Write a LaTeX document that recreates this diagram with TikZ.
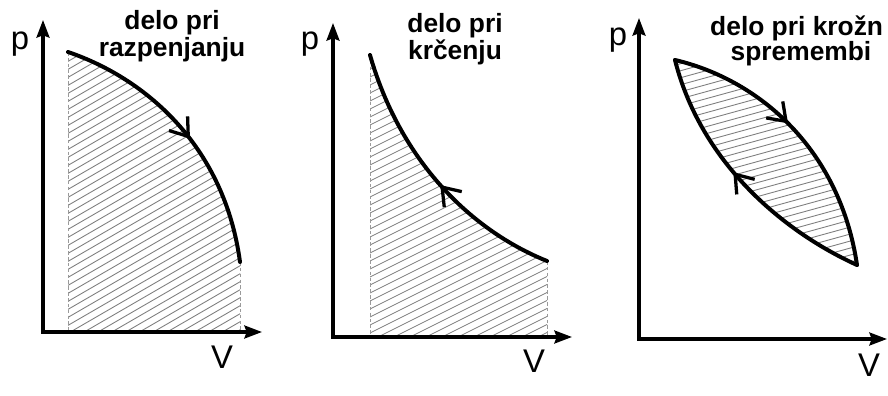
\documentclass[tikz,border=0pt]{standalone}
\usepackage{fontspec}
\setmainfont{Liberation Sans}
\usetikzlibrary{arrows.meta,decorations.markings}
\definecolor{HatchGrey}{HTML}{7E7E7E}
\definecolor{EdgeGrey}{HTML}{9A9A9A}

\tikzset{
  axis/.style={line width=2.8pt,<->},
  pathcurve/.style={line width=3.4pt,line cap=round},
  hatchline/.style={HatchGrey,line width=0.75pt},
  edgeline/.style={EdgeGrey,line width=0.6pt,dashed,dash pattern=on 3pt off 2pt},
  midarrow/.style={postaction={decorate},decoration={markings,
    mark=at position #1 with {\arrow[line width=2.8pt]{Straight Barb[length=14pt,width=20pt]}}}},
  axlabel/.style={font=\fontsize{28}{28}\selectfont,inner sep=0pt},
  title/.style={font=\fontsize{22.5}{23}\selectfont\bfseries,inner sep=0pt,align=center}
}

\begin{document}
\begin{tikzpicture}[x=0.03cm,y=-0.03cm,>={Stealth[length=15pt,width=11pt,inset=2pt]}]
  \useasboundingbox (0,0) rectangle (888,396);

  % razpenjanje
  \coordinate (O1) at (43,332);
  \coordinate (Y1) at (43,20);
  \coordinate (X1) at (262,332);
  \coordinate (A1) at (68,52);
  \coordinate (B1) at (240,262);
  \begin{scope}
    \clip (A1 |- O1) -- (A1) .. controls (150,80) and (225,150) .. (B1) -- (B1 |- O1) -- cycle;
    \foreach \k in {0,...,50} \draw[hatchline] (60,{50+\k*8}) -- ++(190,-110);
  \end{scope}
  \draw[edgeline] (A1) -- (A1 |- O1);
  \draw[edgeline] (B1) -- (B1 |- O1);
  \draw[pathcurve,midarrow=0.53] (A1) .. controls (150,80) and (225,150) .. (B1);
  \draw[axis] (Y1) -- (O1) -- (X1);
  \node[axlabel] (p1) at (20,44) {p};
  \node[axlabel] (v1) at (222,357) {V};
  \node[title] (t1) at (172,36) {delo pri\\razpenjanju};

  % krcenje
  \coordinate (O2) at (333,337);
  \coordinate (Y2) at (333,23);
  \coordinate (X2) at (572,337);
  \coordinate (A2) at (370,55);
  \coordinate (B2) at (547,261);
  \begin{scope}
    \clip (A2 |- O2) -- (A2) .. controls (400,160) and (470,230) .. (B2) -- (B2 |- O2) -- cycle;
    \foreach \k in {0,...,50} \draw[hatchline] (360,{50+\k*8}) -- ++(200,-100);
  \end{scope}
  \draw[edgeline] (A2) -- (A2 |- O2);
  \draw[edgeline] (B2) -- (B2 |- O2);
  \draw[pathcurve,midarrow=0.47] (B2) .. controls (470,230) and (400,160) .. (A2);
  \draw[axis] (Y2) -- (O2) -- (X2);
  \node[axlabel] (p2) at (310,44) {p};
  \node[axlabel] (v2) at (534,361) {V};
  \node[title] (t2) at (455,39) {delo pri\\krčenju};

  % krozna sprememba
  \coordinate (O3) at (639,339);
  \coordinate (Y3) at (639,18);
  \coordinate (X3) at (887,339);
  \coordinate (A3) at (675,60);
  \coordinate (B3) at (857,265);
  \begin{scope}
    \clip (A3) .. controls (760,80) and (840,150) .. (B3) .. controls (780,230) and (700,160) .. (A3);
    \foreach \k in {0,...,42} \draw[hatchline] (665,{40+\k*7}) -- ++(200,-55);
  \end{scope}
  \draw[pathcurve,midarrow=0.45] (A3) .. controls (760,80) and (840,150) .. (B3);
  \draw[pathcurve,midarrow=0.55] (B3) .. controls (780,230) and (700,160) .. (A3);
  \draw[axis] (Y3) -- (O3) -- (X3);
  \node[axlabel] (p3) at (618,40) {p};
  \node[axlabel] (v3) at (869,365) {V};
  \node[title,anchor=west] (t3a) at (710,28) {delo pri krožn};
  \node[title] (t3b) at (801,54) {spremembi};
\end{tikzpicture}
\end{document}
